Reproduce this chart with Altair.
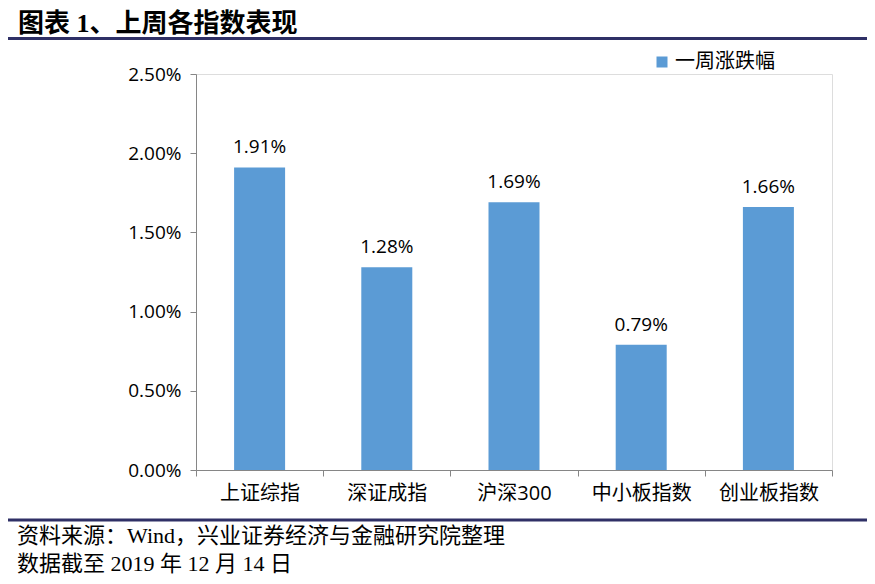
import altair as alt
import pandas as pd

categories = ["上证综指", "深证成指", "沪深300", "中小板指数", "创业板指数"]
values = [0.0191, 0.0128, 0.0169, 0.0079, 0.0166]
series_name = "一周涨跌幅"
y_ticks = [0, 0.005, 0.01, 0.015, 0.02, 0.025]
title_text = "图表 1、上周各指数表现"
source_text = "资料来源：Wind，兴业证券经济与金融研究院整理"
date_text = "数据截至 2019 年 12 月 14 日"

BAR = "#5B9BD5"
AXIS = "#868686"
NAVY = "#2F3066"
SANS = "Open Sans, Noto Sans CJK SC"
SERIF = "Liberation Serif, Noto Sans CJK SC"

W, H = 636, 396

df = pd.DataFrame({"cat": categories, "val": values, "series": [series_name] * len(categories)})

x = alt.X("cat:N", sort=None, title=None,
          scale=alt.Scale(paddingInner=0, paddingOuter=0),
          axis=alt.Axis(labelAngle=0, tickBand="extent", tickSize=6, tickColor=AXIS,
                        domainColor=AXIS, labelFont=SANS, labelFontSize=20,
                        labelColor="#000000", labelPadding=7))
y = alt.Y("val:Q", title=None,
          scale=alt.Scale(domain=[0, 0.025], nice=False),
          axis=alt.Axis(values=y_ticks, format=".2%", grid=False, tickSize=6,
                        tickColor=AXIS, domainColor=AXIS, labelFont=SANS,
                        labelFontSize=19, labelColor="#000000", labelPadding=9))

bars = alt.Chart(df).mark_bar(size=51).encode(
    x=x, y=y,
    color=alt.Color("series:N", scale=alt.Scale(range=[BAR]),
                    legend=alt.Legend(title=None, orient="none", legendX=456, legendY=-22,
                                      symbolType="square", symbolSize=121,
                                      symbolStrokeWidth=0, labelFont=SANS,
                                      labelFontSize=20, labelColor="#000000",
                                      labelOffset=3, padding=0)),
)
labels = alt.Chart(df).mark_text(dy=-14, baseline="alphabetic", font=SANS,
                                 fontSize=19, color="#000000").encode(
    x=alt.X("cat:N", sort=None), y="val:Q", text=alt.Text("val:Q", format=".2%"))

one = alt.Data(values=[{"a": 1}])
top_rule = alt.Chart(one).mark_rule(color=NAVY, strokeWidth=3).encode(
    x=alt.value(-188), x2=alt.value(671), y=alt.value(-35.5))
bot_rule = alt.Chart(one).mark_rule(color=NAVY, strokeWidth=3).encode(
    x=alt.value(-188), x2=alt.value(671), y=alt.value(446))
title = alt.Chart(one).mark_text(align="left", baseline="alphabetic", font=SERIF,
                                 fontSize=26, fontWeight="bold", color="#000000").encode(
    x=alt.value(-178), y=alt.value(-42), text=alt.value(title_text))
src = alt.Chart(one).mark_text(align="left", baseline="alphabetic", font=SERIF,
                               fontSize=22, color="#000000").encode(
    x=alt.value(-179), y=alt.value(469), text=alt.value(source_text))
date = alt.Chart(one).mark_text(align="left", baseline="alphabetic", font=SERIF,
                                fontSize=22, color="#000000").encode(
    x=alt.value(-179), y=alt.value(497), text=alt.value(date_text))

chart = alt.layer(bars, labels, top_rule, bot_rule, title, src, date).properties(
    width=W, height=H,
    autosize=alt.AutoSizeParams(type="none"),
    padding={"left": 188, "top": 66, "right": 35, "bottom": 106},
).configure_view(stroke=None).configure(background="#ffffff")

chart.save("out.html", embed_options={"renderer": "svg", "actions": False})
